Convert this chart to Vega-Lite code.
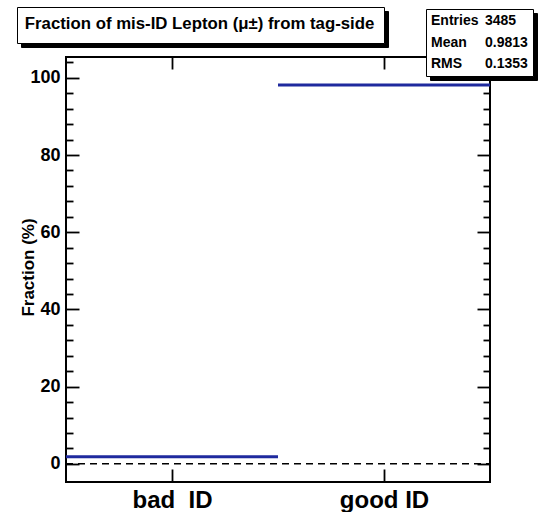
{
  "$schema": "https://vega.github.io/schema/vega-lite/v6.json",
  "width": 424,
  "height": 425,
  "autosize": {"type": "none"},
  "padding": {"left": 66, "top": 57, "right": 51, "bottom": 30},
  "background": "white",
  "config": {
    "font": "Liberation Sans",
    "view": {"stroke": "black", "strokeWidth": 2},
    "axis": {
      "domain": false, "grid": false, "tickColor": "black", "tickWidth": 1.8,
      "labelColor": "black", "titleColor": "black",
      "labelFont": "Liberation Sans", "titleFont": "Liberation Sans",
      "labelFontWeight": "bold", "titleFontWeight": "bold",
      "labelOverlap": false, "labelFlush": false
    },
    "legend": {
      "orient": "none", "title": null, "symbolSize": 0.0001, "symbolOpacity": 0, "symbolStrokeWidth": 0.0001,
      "labelFont": "Liberation Sans", "labelFontWeight": "bold", "labelColor": "black", "labelLimit": 600
    }
  },
  "datasets": {
    "bins": [
      {"label": "bad  ID", "lo": -0.5, "hi": 0.5, "fraction": 1.87},
      {"label": "good ID", "lo": 0.5, "hi": 1.5, "fraction": 98.13}
    ],
    "stats": [
      {"entry": "Entries"}, {"entry": "Mean"}, {"entry": "RMS"},
      {"entry": "3485"}, {"entry": "0.9813"}, {"entry": "0.1353"}
    ]
  },
  "resolve": {"axis": {"x": "independent", "y": "independent"}},
  "layer": [
    {
      "data": {"name": "bins"},
      "mark": {"type": "rule", "color": "#1f2a9e", "strokeWidth": 3},
      "encoding": {
        "x": {
          "field": "lo", "type": "quantitative",
          "scale": {"domain": [-0.5, 1.5], "nice": false, "zero": false},
          "axis": {"orient": "bottom", "values": [0, 1], "labelExpr": "datum.value === 0 ? 'bad\u00a0\u00a0ID' : 'good\u00a0ID'",
                   "tickSize": -13, "labelPadding": 19, "labelFontSize": 24, "title": null}
        },
        "x2": {"field": "hi"},
        "y": {
          "field": "fraction", "type": "quantitative",
          "scale": {"domain": [-4.7, 105.4], "nice": false, "zero": false},
          "axis": {
            "orient": "left",
            "values": [0,4,8,12,16,20,24,28,32,36,40,44,48,52,56,60,64,68,72,76,80,84,88,92,96,100,104],
            "labelExpr": "datum.value % 20 === 0 ? datum.label : ''",
            "tickSize": {"condition": {"test": "datum.value % 20 === 0", "value": -13}, "value": -7},
            "labelPadding": 19, "labelFontSize": 18,
            "title": "Fraction (%)", "titleFontSize": 17, "titleX": -38, "titleY": 210, "titleBaseline": "middle", "titleAngle": 270
          }
        }
      }
    },
    {
      "data": {"values": [{}]},
      "mark": {"type": "rule", "color": "black", "strokeWidth": 1.5, "strokeDash": [7, 5]},
      "encoding": {
        "x": {"datum": -0.5, "type": "quantitative",
              "axis": {"orient": "top", "values": [0, 1], "labels": false, "tickSize": -12, "title": null}},
        "x2": {"datum": 1.5},
        "y": {"datum": 0, "type": "quantitative",
              "axis": {
                "orient": "right",
                "values": [0,4,8,12,16,20,24,28,32,36,40,44,48,52,56,60,64,68,72,76,80,84,88,92,96,100,104],
                "labels": false,
                "tickSize": {"condition": {"test": "datum.value % 20 === 0", "value": -13}, "value": -7},
                "title": null
              }}
      }
    },
    {
      "data": {"name": "bins"},
      "mark": {"type": "point", "opacity": 0},
      "encoding": {
        "shape": {"datum": "Fraction of mis-ID Lepton (μ±) from tag-side\u200b", "type": "nominal",
                  "legend": {"legendX": -45, "legendY": -46, "fillColor": "black", "strokeColor": "black", "padding": 9, "labelFontSize": 16.8, "labelOffset": -18, "labelOpacity": 0}}
      }
    },
    {
      "data": {"name": "stats"},
      "mark": {"type": "point", "opacity": 0},
      "encoding": {
        "strokeDash": {"field": "entry", "type": "nominal", "sort": null,
                   "scale": {"domain": ["Entries", "Mean", "RMS", "3485", "0.9813", "0.1353"]},
                   "legend": {"legendX": 364, "legendY": -44, "fillColor": "black", "strokeColor": "black", "padding": 5,
                              "columns": 2, "columnPadding": 6, "rowPadding": 7.5, "labelFontSize": 14, "labelOffset": -14, "labelOpacity": 0}}
      }
    },
    {
      "data": {"name": "bins"},
      "mark": {"type": "point", "opacity": 0},
      "encoding": {
        "fill": {"datum": "Fraction of mis-ID Lepton (μ±) from tag-side", "type": "nominal", "scale": {"range": ["black"]},
                  "legend": {"legendX": -49, "legendY": -50, "fillColor": "white", "strokeColor": "black", "padding": 9, "labelFontSize": 16.8, "labelOffset": -18}}
      }
    },
    {
      "data": {"name": "stats"},
      "mark": {"type": "point", "opacity": 0},
      "encoding": {
        "stroke": {"field": "entry", "type": "nominal", "sort": null, "scale": {"range": ["black"]},
                       "legend": {"legendX": 360, "legendY": -48, "fillColor": "white", "strokeColor": "black", "padding": 5,
                                  "columns": 2, "columnPadding": 6, "rowPadding": 7.5, "labelFontSize": 14, "labelOffset": -14}}
      }
    }
  ]
}
